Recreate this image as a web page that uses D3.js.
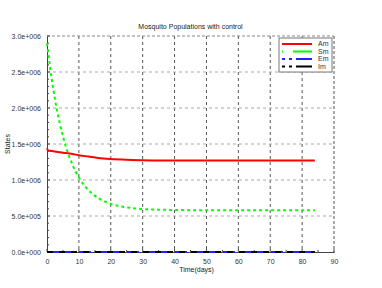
<!DOCTYPE html>
<html>
<head>
<meta charset="utf-8">
<script src="https://cdn.jsdelivr.net/npm/d3@7"></script>
<style>
  body { margin: 0; background: #fff; }
  text { font-family: "Liberation Sans", Arial, sans-serif; }
</style>
</head>
<body>
<svg id="chart" width="382" height="288"></svg>
<script>
// data
var amTime = [0, 0.3, 2, 5, 8, 10, 13, 16, 20, 25, 30, 40, 50, 60, 70, 84];
var amVals = [1.44e6, 1.41e6, 1.40e6, 1.38e6, 1.36e6, 1.345e6, 1.325e6, 1.305e6, 1.29e6, 1.28e6, 1.275e6, 1.27e6, 1.27e6, 1.27e6, 1.27e6, 1.27e6];
var smTime = [0, 1, 2, 3, 4, 5, 6, 7, 8, 9, 10, 12, 14, 16, 18, 20, 23, 26, 30, 35, 40, 50, 60, 70, 84];
var smVals = [2.90e6, 2.55e6, 2.255e6, 2.0e6, 1.79e6, 1.607e6, 1.452e6, 1.321e6, 1.209e6, 1.114e6, 1.035e6, 0.908e6, 0.817e6, 0.751e6, 0.703e6, 0.669e6, 0.635e6, 0.613e6, 0.597e6, 0.588e6, 0.583e6, 0.58e6, 0.58e6, 0.58e6, 0.58e6];
var emTime = [0, 84];
var emVals = [0, 0];
var imTime = [0, 84];
var imVals = [0, 0];
var xTicks = [0, 10, 20, 30, 40, 50, 60, 70, 80, 90];
var yTicks = [0, 0.5e6, 1.0e6, 1.5e6, 2.0e6, 2.5e6, 3.0e6];
var yTickLabels = ["0.0e+000", "5.0e+005", "1.0e+006", "1.5e+006", "2.0e+006", "2.5e+006", "3.0e+006"];

var svg = d3.select("svg#chart"),
    margin = {top: 36, right: 48, bottom: 36, left: 47},
    width = +svg.attr("width") - margin.left - margin.right,
    height = +svg.attr("height") - margin.top - margin.bottom,
    g = svg.append("g").attr("transform", "translate(" + margin.left + "," + margin.top + ")");

var x = d3.scaleLinear().domain([0, 90]).range([0, width]);
var y = d3.scaleLinear().domain([0, 3e6]).range([height, 0]);

// grid
g.selectAll(".vgrid")
  .data(xTicks.slice(1, -1))
  .enter().append("line")
    .attr("x1", function(d) { return x(d); })
    .attr("x2", function(d) { return x(d); })
    .attr("y1", 0).attr("y2", height)
    .attr("stroke", "#555").attr("stroke-dasharray", "3,3");

g.selectAll(".hgrid")
  .data(yTicks.slice(1, -1))
  .enter().append("line")
    .attr("x1", 0).attr("x2", width)
    .attr("y1", function(d) { return y(d); })
    .attr("y2", function(d) { return y(d); })
    .attr("stroke", "#aaa").attr("stroke-dasharray", "3,3");

// top and right borders, dashed
g.append("line").attr("x1", 0).attr("x2", width).attr("y1", 0).attr("y2", 0)
  .attr("stroke", "#888").attr("stroke-dasharray", "3,2");
g.append("line").attr("x1", width).attr("x2", width).attr("y1", 0).attr("y2", height)
  .attr("stroke", "#555").attr("stroke-dasharray", "3,2");

// axes
var xAxis = g.append("g")
    .attr("transform", "translate(0," + height + ")")
    .call(d3.axisBottom(x).tickValues(xTicks).tickSize(0).tickPadding(7).tickFormat(d3.format("d")));
var yAxis = g.append("g")
    .call(d3.axisLeft(y).tickValues(yTicks).tickSize(0).tickPadding(6)
      .tickFormat(function(d, i) { return yTickLabels[i]; }));

[xAxis, yAxis].forEach(function(a) {
  a.select(".domain").attr("stroke", "#444").attr("stroke-width", 1);
  a.selectAll("text").attr("fill", "#333").style("font-size", "7px");
});

// inward ticks (major + minor)
var yMinor = d3.range(0, 3e6 + 1, 1e5);
g.selectAll(".ytick")
  .data(yMinor)
  .enter().append("line")
    .attr("x1", 0)
    .attr("x2", function(d) { return d % 5e5 === 0 ? 3 : 2; })
    .attr("y1", function(d) { return y(d); })
    .attr("y2", function(d) { return y(d); })
    .attr("stroke", "#444");
var xMinor = d3.range(0, 91, 5);
g.selectAll(".xtick")
  .data(xMinor)
  .enter().append("line")
    .attr("x1", function(d) { return x(d); })
    .attr("x2", function(d) { return x(d); })
    .attr("y1", height)
    .attr("y2", function(d) { return d % 10 === 0 ? height - 3 : height - 2; })
    .attr("stroke", "#444");

// series
var series = [
  {key: "Am", t: amTime, v: amVals, color: "#ff0000", dash: null, w: 2},
  {key: "Sm", t: smTime, v: smVals, color: "#00ff00", dash: "3,3", w: 2},
  {key: "Em", t: emTime, v: emVals, color: "#2222ff", dash: "12,4", w: 2},
  {key: "Im", t: imTime, v: imVals, color: "#000000", dash: "6,6", w: 2}
];

var line = d3.line()
    .x(function(d) { return x(d[0]); })
    .y(function(d) { return y(d[1]); });

series.forEach(function(s) {
  var pts = s.t.map(function(t, i) { return [t, s.v[i]]; });
  g.append("path")
    .datum(pts)
    .attr("fill", "none")
    .attr("stroke", s.color)
    .attr("stroke-width", s.w)
    .attr("stroke-dasharray", s.dash)
    .attr("d", line.curve(s.key === "Sm" || s.key === "Am" ? d3.curveMonotoneX : d3.curveLinear));
});

// title & labels
svg.append("text")
  .attr("x", margin.left + width / 2).attr("y", 29)
  .attr("text-anchor", "middle").attr("fill", "#222")
  .style("font-size", "7px")
  .text("Mosquito Populations with control");

svg.append("text")
  .attr("x", margin.left + width / 2 + 6).attr("y", 272)
  .attr("text-anchor", "middle").attr("fill", "#222")
  .style("font-size", "7px")
  .text("Time(days)");

svg.append("text")
  .attr("transform", "translate(10,144) rotate(-90)")
  .attr("text-anchor", "middle").attr("fill", "#222")
  .style("font-size", "7px")
  .text("States");

// legend
var legend = svg.append("g").attr("transform", "translate(279,38)");
legend.append("rect")
  .attr("width", 53).attr("height", 34)
  .attr("fill", "#fff").attr("stroke", "#777");

var legendDash = {Am: null, Sm: "1,10,20,0", Em: "3,4,3,4,20,0", Im: "3,4,3,4,20,0"};
var item = legend.selectAll(".item")
  .data(series)
  .enter().append("g")
    .attr("transform", function(d, i) { return "translate(0," + (6 + i * 7.5) + ")"; });

item.append("line")
  .attr("x1", 3).attr("x2", 33)
  .attr("stroke", function(d) { return d.color; })
  .attr("stroke-width", 2)
  .attr("stroke-dasharray", function(d) { return legendDash[d.key]; });

item.append("text")
  .attr("x", 39).attr("dy", "0.35em")
  .attr("fill", "#333")
  .style("font-size", "7px")
  .text(function(d) { return d.key; });
</script>
</body>
</html>
